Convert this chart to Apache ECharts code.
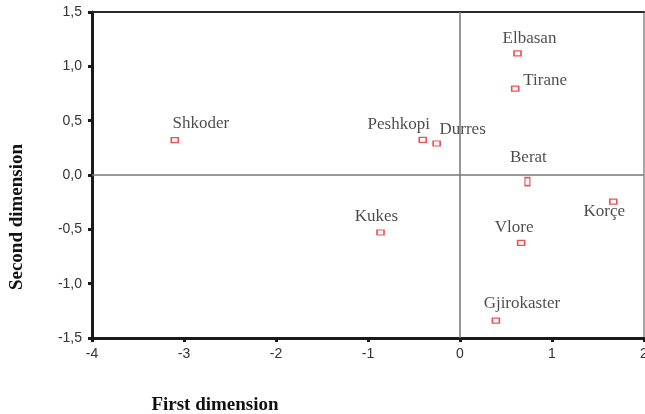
<!DOCTYPE html>
<html>
<head>
<meta charset="utf-8">
<script src="https://cdn.jsdelivr.net/npm/echarts@6/dist/echarts.min.js"></script>
<style>
html,body{margin:0;padding:0;background:#fff;}
#chart{width:645px;height:414px;}
</style>
</head>
<body>
<div id="chart"></div>
<script>
// ---- data ----
var cities = ['Elbasan','Tirane','Peshkopi','Durres','Berat','Korçe','Kukes','Vlore','Gjirokaster','Shkoder'];
var firstDim = [0.625, 0.60, -0.405, -0.254, 0.733, 1.666, -0.864, 0.665, 0.39, -3.10];
var secondDim = [1.12, 0.795, 0.324, 0.29, -0.061, -0.245, -0.529, -0.624, -1.34, 0.321];
var xTicks = [-4, -3, -2, -1, 0, 1, 2];
var yTicks = [-1.5, -1.0, -0.5, 0.0, 0.5, 1.0, 1.5];

// ---- label placement (style, not data) ----
var labelOffsets = {
  'Elbasan':[12,-15], 'Tirane':[30,-8], 'Peshkopi':[-24,-15], 'Durres':[26,-14],
  'Berat':[1,-24], 'Korçe':[-9,10], 'Kukes':[-4,-16], 'Vlore':[-7,-15],
  'Gjirokaster':[26,-17], 'Shkoder':[26,-17]
};
var symbolSizes = { 'Berat':[5,8] };

var points = cities.map(function(c, i){
  var item = {
    name: c,
    value: [firstDim[i], secondDim[i]],
    label: { offset: labelOffsets[c] || [0,-15] }
  };
  if (symbolSizes[c]) item.symbolSize = symbolSizes[c];
  return item;
});

function fmtY(v){ return v.toFixed(1).replace('.', ','); }

var chart = echarts.init(document.getElementById('chart'), null, {renderer:'canvas'});
chart.setOption({
  animation: false,
  backgroundColor: '#fff',
  grid: { left: 92, right: 1, top: 12, bottom: 76, containLabel: false, outerBoundsMode: 'none' },
  xAxis: [{
    type: 'value', min: xTicks[0], max: xTicks[xTicks.length-1], interval: 1,
    position: 'bottom',
    axisLine: { onZero: false, lineStyle: { color: '#1a1a1a', width: 3 } },
    axisTick: { show: true, inside: false, length: 4, lineStyle: { color: '#1a1a1a', width: 3 } },
    axisLabel: { margin: 9, color: '#333', fontFamily: 'Liberation Sans', fontSize: 14,
      formatter: function(v){ return String(v); } },
    splitLine: { show: false },
    name: 'First dimension', nameLocation: 'middle', nameGap: 58,
    nameTextStyle: { fontFamily: 'Liberation Serif', fontWeight: 'bold', fontSize: 19, color: '#111',
      padding: [0, 306, 0, 0] }
  },{
    type: 'value', min: xTicks[0], max: xTicks[xTicks.length-1], position: 'top',
    axisLine: { onZero: false, lineStyle: { color: '#2a2a2a', width: 2 } },
    axisTick: { show: false }, axisLabel: { show: false }, splitLine: { show: false }
  }],
  yAxis: [{
    type: 'value', min: yTicks[0], max: yTicks[yTicks.length-1], interval: 0.5,
    position: 'left',
    axisLine: { onZero: false, lineStyle: { color: '#1a1a1a', width: 3 } },
    axisTick: { show: true, inside: false, length: 4, lineStyle: { color: '#1a1a1a', width: 3 } },
    axisLabel: { margin: 10, color: '#333', fontFamily: 'Liberation Sans', fontSize: 14, formatter: fmtY },
    splitLine: { show: false },
    name: 'Second dimension', nameLocation: 'middle', nameGap: 65, nameRotate: 90,
    nameTextStyle: { fontFamily: 'Liberation Serif', fontWeight: 'bold', fontSize: 19, color: '#111',
      padding: [0, 84, 0, 0] }
  },{
    type: 'value', min: yTicks[0], max: yTicks[yTicks.length-1], position: 'right',
    axisLine: { onZero: false, lineStyle: { color: '#888', width: 1.5 } },
    axisTick: { show: false }, axisLabel: { show: false }, splitLine: { show: false }
  }],
  series: [{
    type: 'scatter',
    xAxisIndex: 0, yAxisIndex: 0,
    symbol: 'rect',
    symbolSize: [7, 5],
    itemStyle: { color: '#fff', borderColor: '#e8252a', borderWidth: 1.4 },
    label: {
      show: true, position: 'inside', formatter: '{b}',
      fontFamily: 'Liberation Serif', fontSize: 17, color: '#1e1e1e',
      textBorderWidth: 0, textShadowBlur: 0,
      align: 'center', verticalAlign: 'middle'
    },
    data: points,
    markLine: {
      silent: true, symbol: 'none', animation: false,
      label: { show: false },
      lineStyle: { color: '#777', width: 1.5, type: 'solid' },
      data: [{ xAxis: 0 }, { yAxis: 0 }]
    },
    z: 3
  }]
});
</script>
</body>
</html>
